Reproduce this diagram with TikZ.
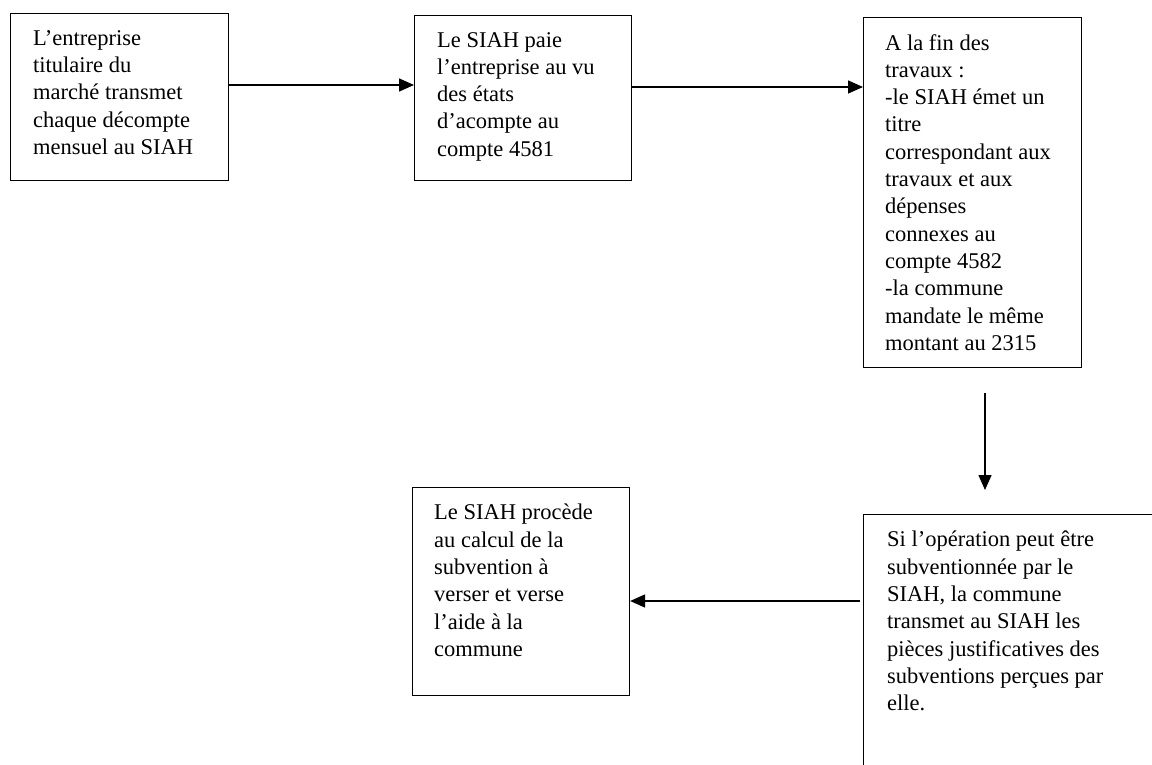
\documentclass[tikz,border=0pt]{standalone}
\usepackage{fontspec}
\setmainfont{Liberation Serif}
\usetikzlibrary{arrows.meta}
\begin{document}
\begin{tikzpicture}[x=1pt,y=-1pt,
  boxframe/.style={draw, line width=1.1pt, inner sep=0pt, anchor=north west},
  boxtext/.style={anchor=north west, inner sep=0pt, align=left,
    font=\fontsize{22.5}{27.3}\selectfont},
  arr/.style={line width=1.5pt, -{Triangle[length=15pt,width=13pt]}}]
\useasboundingbox (0,0) rectangle (1152,765);
\clip (0,0) rectangle (1152,765);
\fill[white] (0,0) rectangle (1152,765);

% boxes
\node[boxframe, minimum width=218pt, minimum height=167pt] (b1) at (10,13) {};
\node[boxframe, minimum width=217pt, minimum height=165pt] (b2) at (414,15) {};
\node[boxframe, minimum width=218pt, minimum height=350pt] (b3) at (863,17) {};
\node[boxframe, minimum width=217pt, minimum height=208pt] (b4) at (412,487) {};
\node[boxframe, minimum width=320pt, minimum height=300pt] (b5) at (863,514) {};

% texts
\node[boxtext] (t1) at ([xshift=23pt,yshift=-17pt]b1.north west)
  {L’entreprise\\titulaire du\\marché transmet\\chaque décompte\\mensuel au SIAH};
\node[boxtext] (t2) at ([xshift=23pt,yshift=-17pt]b2.north west)
  {Le SIAH paie\\l’entreprise au vu\\des états\\d’acompte au\\compte 4581};
\node[boxtext] (t3) at ([xshift=22pt,yshift=-17pt]b3.north west)
  {A la fin des\\travaux :\\-le SIAH émet un\\titre\\correspondant aux\\travaux et aux\\dépenses\\connexes au\\compte 4582\\-la commune\\mandate le même\\montant au 2315};
\node[boxtext] (t4) at ([xshift=22pt,yshift=-17pt]b4.north west)
  {Le SIAH procède\\au calcul de la\\subvention à\\verser et verse\\l’aide à la\\commune};
\node[boxtext] (t5) at ([xshift=24pt,yshift=-17pt]b5.north west)
  {Si l’opération peut être\\subventionnée par le\\SIAH, la commune\\transmet au SIAH les\\pièces justificatives des\\subventions perçues par\\elle.};

% connectors
\coordinate (c1) at (0,85);
\coordinate (c2) at (0,87);
\coordinate (d1) at (985,393);
\coordinate (d2) at (985,490);
\coordinate (e1) at (860,601);
\draw[arr] (b1.east |- c1) -- (b2.west |- c1);
\draw[arr] (b2.east |- c2) -- (b3.west |- c2);
\draw[arr] (d1) -- (d2);
\draw[arr] (e1) -- (b4.east |- e1);
\end{tikzpicture}
\end{document}
